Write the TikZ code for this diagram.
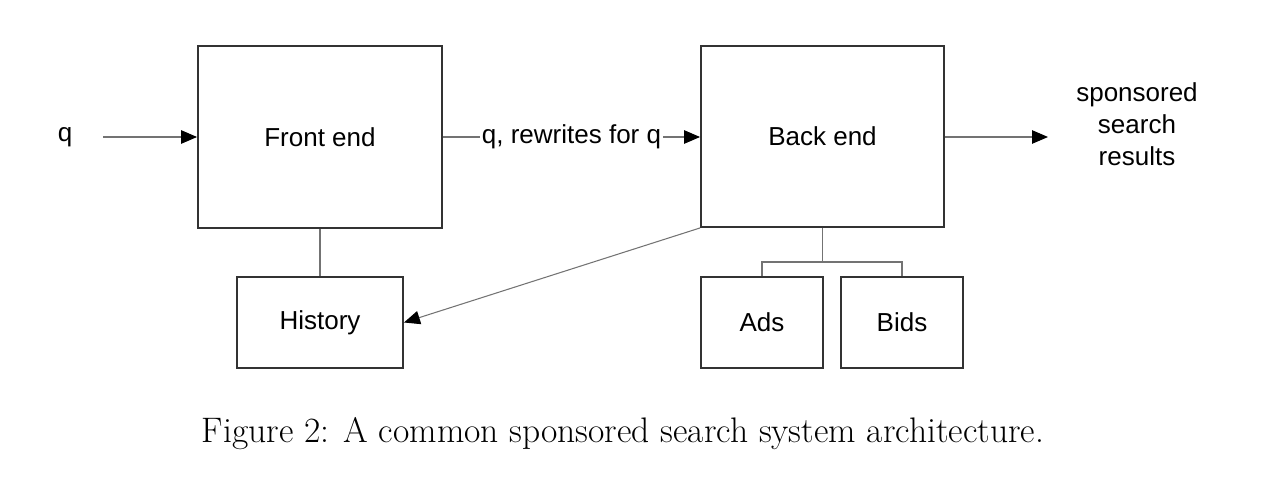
\documentclass[tikz,border=0pt]{standalone}
\usepackage{fontspec}
\newfontfamily\arialfont{Liberation Sans}
\usetikzlibrary{arrows.meta,positioning}

\begin{document}
\begin{tikzpicture}[
    x=0.02cm, y=-0.02cm,
    every node/.style={font=\arialfont\fontsize{14.8}{18.2}\selectfont, inner sep=0pt},
    box/.style={draw=black!80, line width=1.1pt, rectangle, align=center},
    link/.style={draw=black!55, line width=0.6pt},
    flow/.style={link, -{Triangle[length=0.32cm, width=0.27cm, black]}}
]
\useasboundingbox (0,0) rectangle (1262,490);

% blocks
\node[box, minimum width=4.88cm, minimum height=3.64cm] (front) at (320,137) {Front end};
\node[box, minimum width=4.86cm, minimum height=3.62cm] (back) at (822.5,136.5) {Back end};
\node[box, minimum width=3.32cm, minimum height=1.82cm] (history) at (320,322.5) {History};
\node[box, minimum width=2.44cm, minimum height=1.82cm] (ads) at (762,322.5) {Ads};
\node[box, minimum width=2.44cm, minimum height=1.82cm] (bids) at (902,322.5) {Bids};

% inputs and outputs
\node (query) at (65,137) {q};
\coordinate (qstart) at (103,137);
\coordinate (outend) at (1048,137);
\node[align=center] (results) at (1137,124) {sponsored\\search\\results};

\draw[flow] (qstart) -- (front.west |- qstart);
\draw[flow] (front.east |- qstart) -- node[fill=white, inner xsep=1pt] (rewrites) {q, rewrites for q} (back.west |- qstart);
\draw[flow] (back.east |- qstart) -- (outend);

% storage
\draw[link] (front.south) -- (history.north);
\draw[flow] (back.south west) -- (history.east);
\coordinate (split) at (822.5,262);
\draw[link] (back.south) -- (split);
\draw[link] (ads.north) |- (split) -| (bids.north);

\node[font=\rmfamily\fontsize{20.2}{24}\selectfont, anchor=base] (caption) at (623,442) {Figure 2: A common sponsored search system architecture.};

\end{tikzpicture}
\end{document}
